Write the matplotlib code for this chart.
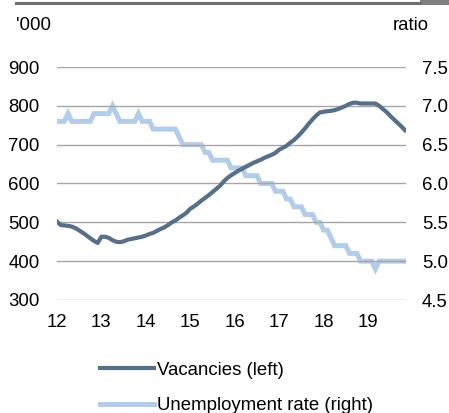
import matplotlib
matplotlib.use("Agg")
import matplotlib.pyplot as plt
from matplotlib.lines import Line2D
from matplotlib.patches import Rectangle
import numpy as np

plt.rcParams['font.family'] = ['Liberation Sans', 'DejaVu Sans']

# Monthly data, Jan 2012 .. Nov 2019
start_year = 12
vacancies = [
    502, 493, 492, 491, 489, 485, 479, 473, 466, 459, 452, 447,
    463, 463, 460, 454, 450, 449, 451, 455, 457, 459, 461, 463,
    466, 470, 473, 478, 483, 487, 493, 500, 505, 512, 518, 525,
    535, 541, 548, 556, 563, 570, 578, 586, 594, 605, 614, 621,
    627, 633, 638, 643, 648, 653, 657, 661, 666, 670, 674, 679,
    687, 692, 697, 705, 712, 721, 731, 742, 754, 765, 775, 783,
    785, 786, 787, 789, 792, 796, 800, 805, 808, 808, 806, 806,
    806, 806, 806, 800, 792, 784, 774, 765, 756, 747, 737,
]
unemployment = [
    6.8, 6.8, 6.8, 6.9, 6.8, 6.8, 6.8, 6.8, 6.8, 6.8, 6.9, 6.9,
    6.9, 6.9, 6.9, 7.0, 6.9, 6.8, 6.8, 6.8, 6.8, 6.8, 6.9, 6.8,
    6.8, 6.8, 6.7, 6.7, 6.7, 6.7, 6.7, 6.7, 6.7, 6.6, 6.5, 6.5,
    6.5, 6.5, 6.5, 6.5, 6.4, 6.4, 6.3, 6.3, 6.3, 6.3, 6.3, 6.2,
    6.2, 6.2, 6.2, 6.1, 6.1, 6.1, 6.1, 6.0, 6.0, 6.0, 6.0, 5.9,
    5.9, 5.9, 5.8, 5.8, 5.7, 5.7, 5.7, 5.6, 5.6, 5.6, 5.5, 5.5,
    5.4, 5.4, 5.3, 5.2, 5.2, 5.2, 5.2, 5.1, 5.1, 5.1, 5.0, 5.0,
    5.0, 5.0, 4.9, 5.0, 5.0, 5.0, 5.0, 5.0, 5.0, 5.0, 5.0,
]
year_ticks = [12, 13, 14, 15, 16, 17, 18, 19]
left_ticks = [300, 400, 500, 600, 700, 800, 900]
right_ticks = [4.5, 5.0, 5.5, 6.0, 6.5, 7.0, 7.5]

x = start_year + np.arange(len(vacancies)) / 12.0

W, H = 449, 413
fig = plt.figure(figsize=(W / 100, H / 100), dpi=100)
ax = fig.add_axes([57 / W, 1 - 300 / H, (406 - 57) / W, (300 - 67) / H])
ax2 = ax.twinx()

dark = '#56708a'
light = '#b2cde9'
grid_c = '#a6a6a6'
fs = 13.4

ax.set_ylim(300, 900)
ax2.set_ylim(4.5, 7.5)
ax.set_xlim(12, 12 + 349.3 / 44.47)

for v in left_ticks:
    ax.axhline(v, color=grid_c, lw=1.0, zorder=0)

ax2.plot(x, unemployment, color=light, lw=3.6, solid_joinstyle='miter', zorder=2)
ax.plot(x, vacancies, color=dark, lw=3.0, zorder=3)
ax.set_zorder(ax2.get_zorder() + 1)
ax.patch.set_visible(False)

for a in (ax, ax2):
    for s in a.spines.values():
        s.set_visible(False)
    a.tick_params(length=0, labelsize=fs, colors='black')

ax.set_yticks(left_ticks)
ax.set_yticklabels([str(v) for v in left_ticks])
ax.tick_params(axis='y', pad=12.5)
ax2.set_yticks(right_ticks)
ax2.set_yticklabels([f"{v:.1f}" for v in right_ticks])
ax2.tick_params(axis='y', pad=11.5)
ax.set_xticks(year_ticks)
ax.set_xticklabels([str(v) for v in year_ticks])
ax.tick_params(axis='x', pad=10)

fig.text(16 / W, 1 - 25 / H, "'000", fontsize=fs, ha='left', va='center')
fig.text(429 / W, 1 - 25 / H, "ratio", fontsize=fs, ha='right', va='center')

# header rule
fig.add_artist(Line2D([16 / W, 420 / W], [1 - 2.5 / H, 1 - 2.5 / H], color='#6e6e6e', lw=2.2))
fig.add_artist(Rectangle((420 / W, 1 - 5 / H), 29 / W, 5 / H, color='#7f7f7f', lw=0))

handles = [Line2D([], [], color=dark, lw=3.0), Line2D([], [], color=light, lw=3.6)]
fig.legend(handles, ['Vacancies (left)', 'Unemployment rate (right)'],
           loc='center left', bbox_to_anchor=(100 / W, 1 - 388 / H),
           frameon=False, fontsize=fs, handlelength=2.9, handletextpad=0.15,
           labelspacing=1.0, borderpad=0, borderaxespad=0)

fig.savefig('out.png', dpi=100)
